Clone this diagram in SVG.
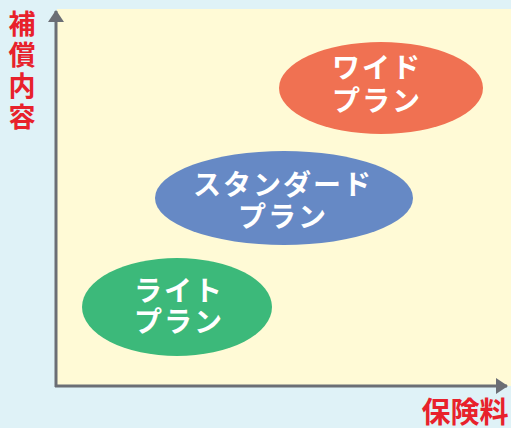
<svg xmlns="http://www.w3.org/2000/svg" width="511" height="428" viewBox="0 0 511 428">
<style>
.lbl{font-family:"Noto Sans CJK JP","Noto Sans",sans-serif;font-weight:bold;fill:#ffffff;font-size:28px;letter-spacing:2px;text-anchor:middle}
.ax{font-family:"Noto Sans CJK JP","Noto Sans",sans-serif;font-weight:bold;fill:#e8212b;text-anchor:middle}
</style>
<defs>
<marker id="ah" viewBox="0 0 12 16" refX="11" refY="8" markerWidth="12" markerHeight="16" markerUnits="userSpaceOnUse" orient="auto">
<path d="M0,0 L12,8 L0,16 Z" fill="#6b6e75"/>
</marker>
</defs>
<rect x="0" y="0" width="511" height="428" fill="#dff2f7"/>
<rect x="57" y="9" width="454" height="377" fill="#fffad6"/>
<g id="connectors">
<line x1="56" y1="387" x2="56" y2="11" stroke="#6b6e75" stroke-width="3" marker-end="url(#ah)"/>
<line x1="55" y1="386" x2="507" y2="386" stroke="#6b6e75" stroke-width="3" marker-end="url(#ah)"/>
</g>
<g id="axis-y">
<text class="ax" font-size="27"><tspan x="22" y="34">補</tspan><tspan x="22" y="65">償</tspan><tspan x="22" y="96">内</tspan><tspan x="22" y="127">容</tspan></text>
</g>
<g id="axis-x">
<text class="ax" font-size="29" x="465" y="423">保険料</text>
</g>
<g id="wide">
<ellipse cx="381" cy="88" rx="102" ry="46" fill="#f07152"/>
<text class="lbl"><tspan x="377" y="78">ワイド</tspan><tspan x="377" y="111">プラン</tspan></text>
</g>
<g id="standard">
<ellipse cx="284" cy="198" rx="129" ry="47" fill="#6689c5"/>
<text class="lbl"><tspan x="283" y="195">スタンダード</tspan><tspan x="283" y="227">プラン</tspan></text>
</g>
<g id="lite">
<ellipse cx="177" cy="307" rx="95" ry="49" fill="#3cb97a"/>
<text class="lbl"><tspan x="179" y="301">ライト</tspan><tspan x="179" y="332">プラン</tspan></text>
</g>
</svg>
